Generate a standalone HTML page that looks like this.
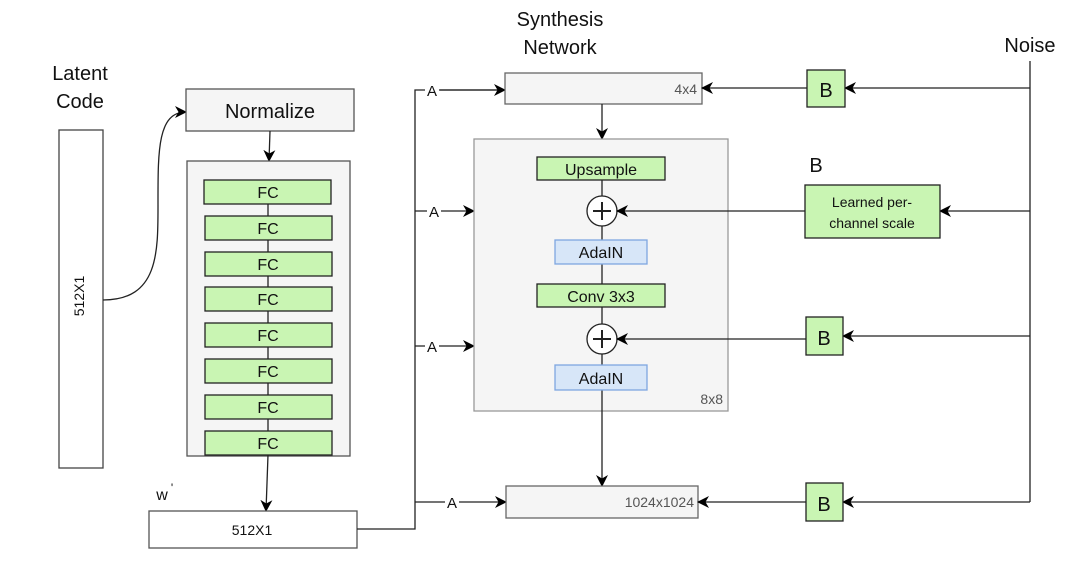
<!DOCTYPE html>
<html><head><style>
body{margin:0;background:#fff;}
svg text{font-family:"Liberation Sans",Arial,sans-serif;}
</style></head><body>
<svg width="1084" height="575" viewBox="0 0 1084 575" xmlns="http://www.w3.org/2000/svg">
<defs>
<marker id="ar" markerWidth="12" markerHeight="12" refX="11" refY="6" orient="auto" markerUnits="userSpaceOnUse">
<path d="M0,0 L12,6 L0,12 L3.5,6 Z" fill="#000"/></marker>
</defs>
<g stroke="#222" stroke-width="1.3" fill="none">
<rect x="59" y="130" width="44" height="338" fill="#fff" stroke="#444"/>
<path d="M103,300 C160,300 158,250 158,200 C158,150 158,112 186,112" marker-end="url(#ar)"/>
<rect x="186" y="89" width="168" height="42" fill="#f5f5f5" stroke="#555"/>
<line x1="270" y1="131" x2="269" y2="161" marker-end="url(#ar)"/>
<rect x="187" y="161" width="163" height="295" fill="#f5f5f5" stroke="#555"/>
<line x1="268" y1="204" x2="268" y2="431"/>
<line x1="268" y1="455" x2="266" y2="511" marker-end="url(#ar)"/>
<rect x="149" y="511" width="208" height="37" fill="#fff" stroke="#555"/>
<polyline points="357,529 415,529 415,90 505,90"/>
<line x1="440" y1="90" x2="505" y2="90" marker-end="url(#ar)"/>
<line x1="415" y1="211" x2="474" y2="211" marker-end="url(#ar)"/>
<line x1="415" y1="346" x2="474" y2="346" marker-end="url(#ar)"/>
<line x1="415" y1="502" x2="506" y2="502" marker-end="url(#ar)"/>
<rect x="505" y="73" width="197" height="31" fill="#f5f5f5" stroke="#666"/>
<line x1="602" y1="104" x2="602" y2="139" marker-end="url(#ar)"/>
<rect x="474" y="139" width="254" height="272" fill="#f5f5f5" stroke="#999"/>
<line x1="602" y1="180" x2="602" y2="365"/>
<line x1="602" y1="390" x2="602" y2="486" marker-end="url(#ar)"/>
<rect x="506" y="486" width="192" height="32" fill="#f5f5f5" stroke="#666"/>
<rect x="537" y="157" width="128" height="23" fill="#c9f5b3"/>
<rect x="555" y="240" width="92" height="24" fill="#d7e6f8" stroke="#7ea6e0"/>
<rect x="537" y="284" width="128" height="23" fill="#c9f5b3"/>
<rect x="555" y="365" width="92" height="25" fill="#d7e6f8" stroke="#7ea6e0"/>
<circle cx="602" cy="211" r="15" fill="#fff"/>
<circle cx="602" cy="339" r="15" fill="#fff"/>
<path d="M593,211 H611 M602,202 V220 M593,339 H611 M602,330 V348" stroke-width="2"/>
<line x1="1030" y1="61" x2="1030" y2="502"/>
<line x1="1030" y1="88" x2="845" y2="88" marker-end="url(#ar)"/>
<line x1="807" y1="88" x2="702" y2="88" marker-end="url(#ar)"/>
<rect x="807" y="70" width="38" height="37" fill="#c9f5b3"/>
<line x1="1030" y1="211" x2="940" y2="211" marker-end="url(#ar)"/>
<line x1="805" y1="211" x2="617" y2="211" marker-end="url(#ar)"/>
<rect x="805" y="185" width="135" height="53" fill="#c9f5b3"/>
<line x1="1030" y1="336" x2="843" y2="336" marker-end="url(#ar)"/>
<line x1="806" y1="339" x2="617" y2="339" marker-end="url(#ar)"/>
<rect x="806" y="317" width="37" height="38" fill="#c9f5b3"/>
<line x1="1030" y1="502" x2="843" y2="502" marker-end="url(#ar)"/>
<line x1="806" y1="502" x2="698" y2="502" marker-end="url(#ar)"/>
<rect x="806" y="483" width="37" height="38" fill="#c9f5b3"/>
</g>
<g fill="#c9f5b3" stroke="#222" stroke-width="1.3">
<rect x="204" y="180" width="127" height="24"/>
<rect x="205" y="216" width="127" height="24"/>
<rect x="205" y="252" width="127" height="24"/>
<rect x="205" y="287" width="127" height="24"/>
<rect x="205" y="323" width="127" height="24"/>
<rect x="205" y="359" width="127" height="24"/>
<rect x="205" y="395" width="127" height="24"/>
<rect x="205" y="431" width="127" height="24"/>
</g>
<g fill="#fff">
<rect x="425" y="82" width="14" height="16"/>
<rect x="427" y="203" width="14" height="16"/>
<rect x="425" y="338" width="14" height="16"/>
<rect x="445" y="494" width="14" height="16"/>
</g>
<g font-size="16" text-anchor="middle" fill="#111">
<text x="268" y="198">FC</text><text x="268" y="234">FC</text><text x="268" y="270">FC</text>
<text x="268" y="305">FC</text><text x="268" y="341">FC</text><text x="268" y="377">FC</text>
<text x="268" y="413">FC</text><text x="268" y="449">FC</text>
</g>
<g fill="#111" text-anchor="middle">
<text x="80" y="80" font-size="20">Latent</text>
<text x="80" y="108" font-size="20">Code</text>
<text x="270" y="118" font-size="20">Normalize</text>
<text x="560" y="26" font-size="20">Synthesis</text>
<text x="560" y="54" font-size="20">Network</text>
<text x="1030" y="52" font-size="20">Noise</text>
<text x="252" y="535" font-size="14">512X1</text>
<text x="162" y="500" font-size="16">w</text><text x="172" y="492" font-size="12">'</text>
<text x="88" y="300" font-size="14" transform="rotate(-90 84 300)">512X1</text>
<text x="601" y="175" font-size="16">Upsample</text>
<text x="601" y="258" font-size="16">AdaIN</text>
<text x="601" y="302" font-size="16">Conv 3x3</text>
<text x="601" y="384" font-size="16">AdaIN</text>
<text x="826" y="97" font-size="20">B</text>
<text x="824" y="345" font-size="20">B</text>
<text x="824" y="511" font-size="20">B</text>
<text x="816" y="172" font-size="20">B</text>
<text x="872" y="207" font-size="14">Learned per-</text>
<text x="872" y="228" font-size="14">channel scale</text>
<text x="432" y="96" font-size="15">A</text>
<text x="434" y="217" font-size="15">A</text>
<text x="432" y="352" font-size="15">A</text>
<text x="452" y="508" font-size="15">A</text>
</g>
<g fill="#555" font-size="14" text-anchor="end">
<text x="697" y="94">4x4</text>
<text x="723" y="404">8x8</text>
<text x="694" y="507">1024x1024</text>
</g>
</svg>
</body></html>
